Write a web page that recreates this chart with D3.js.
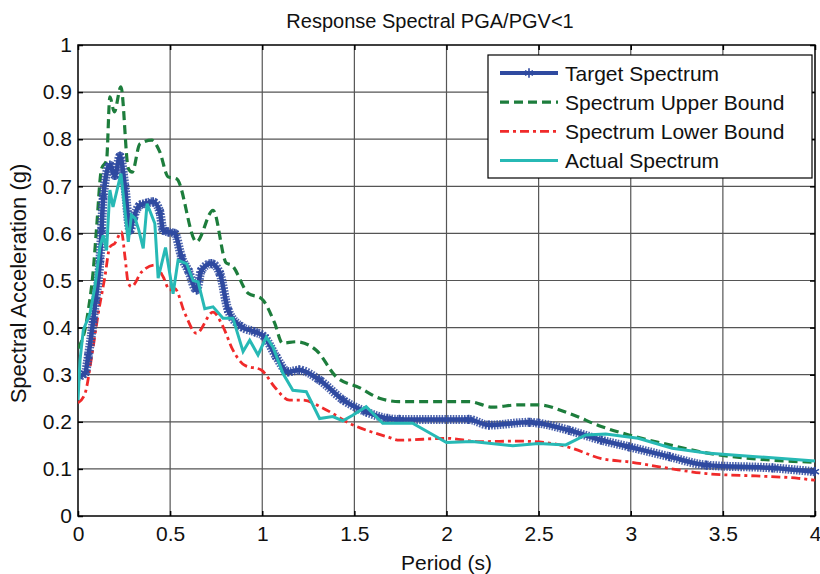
<!DOCTYPE html>
<html>
<head>
<meta charset="utf-8">
<script src="https://cdn.jsdelivr.net/npm/d3@7"></script>
<style>
  body { margin: 0; background: #fff; }
  svg { display: block; font-family: "Liberation Sans", Arial, sans-serif; }
</style>
</head>
<body>
<svg id="chart"></svg>
<script>
// values: period (s) and spectral acceleration (g)
let targetT = [0, 0.038, 0.056, 0.083, 0.096, 0.119, 0.128, 0.137, 0.173, 0.2, 0.228, 0.255, 0.282, 0.303, 0.336, 0.37, 0.408, 0.444, 0.462, 0.489, 0.525, 0.562, 0.6, 0.643, 0.67, 0.724, 0.77, 0.815, 0.887, 0.959, 1.013, 1.076, 1.14, 1.2, 1.31, 1.44, 1.564, 1.68, 1.744, 2.12, 2.23, 2.45, 2.5, 2.665, 2.84, 2.99, 3.21, 3.41, 3.77, 4.0]
let targetV = [0.296, 0.303, 0.34, 0.416, 0.458, 0.543, 0.607, 0.678, 0.745, 0.723, 0.764, 0.699, 0.607, 0.635, 0.66, 0.664, 0.667, 0.646, 0.607, 0.603, 0.6, 0.55, 0.52, 0.48, 0.522, 0.536, 0.515, 0.437, 0.402, 0.391, 0.38, 0.338, 0.306, 0.31, 0.289, 0.246, 0.221, 0.207, 0.205, 0.205, 0.193, 0.199, 0.197, 0.182, 0.161, 0.147, 0.126, 0.108, 0.102, 0.094]

let upperT = [0, 0.04, 0.056, 0.083, 0.1, 0.128, 0.155, 0.173, 0.197, 0.233, 0.273, 0.294, 0.336, 0.4, 0.444, 0.489, 0.535, 0.643, 0.733, 0.805, 0.833, 0.923, 0.995, 1.067, 1.11, 1.185, 1.293, 1.4, 1.53, 1.636, 1.744, 2.123, 2.25, 2.39, 2.5, 2.665, 2.84, 2.99, 3.21, 3.41, 4.0]
let upperV = [0.356, 0.4, 0.437, 0.522, 0.607, 0.738, 0.755, 0.89, 0.858, 0.911, 0.738, 0.73, 0.79, 0.798, 0.773, 0.72, 0.716, 0.582, 0.649, 0.537, 0.533, 0.473, 0.462, 0.41, 0.367, 0.37, 0.352, 0.296, 0.272, 0.25, 0.243, 0.243, 0.231, 0.236, 0.236, 0.218, 0.19, 0.172, 0.151, 0.134, 0.114]

let lowerT = [0, 0.038, 0.074, 0.11, 0.146, 0.173, 0.2, 0.236, 0.255, 0.273, 0.29, 0.345, 0.417, 0.462, 0.498, 0.525, 0.58, 0.643, 0.733, 0.787, 0.841, 0.905, 0.995, 1.067, 1.148, 1.22, 1.33, 1.473, 1.68, 1.744, 2.0, 2.18, 2.394, 2.57, 2.68, 2.84, 2.99, 3.21, 3.41, 3.68, 3.91, 4.0]
let lowerV = [0.24, 0.26, 0.338, 0.43, 0.508, 0.571, 0.579, 0.603, 0.55, 0.494, 0.487, 0.518, 0.533, 0.508, 0.48, 0.483, 0.43, 0.388, 0.433, 0.402, 0.352, 0.32, 0.31, 0.274, 0.246, 0.246, 0.229, 0.197, 0.168, 0.161, 0.165, 0.158, 0.159, 0.154, 0.144, 0.122, 0.115, 0.101, 0.09, 0.085, 0.08, 0.076]

let actualT = [0, 0.011, 0.029, 0.065, 0.092, 0.119, 0.137, 0.155, 0.173, 0.19, 0.233, 0.273, 0.29, 0.31, 0.33, 0.354, 0.375, 0.417, 0.435, 0.475, 0.516, 0.543, 0.589, 0.625, 0.652, 0.688, 0.733, 0.787, 0.841, 0.896, 0.932, 0.977, 1.022, 1.058, 1.112, 1.166, 1.239, 1.311, 1.383, 1.437, 1.491, 1.564, 1.654, 1.816, 2.0, 2.14, 2.36, 2.5, 2.647, 2.756, 2.864, 3.04, 3.225, 3.41, 3.68, 4.0]
let actualV = [0.246, 0.331, 0.395, 0.43, 0.487, 0.571, 0.596, 0.564, 0.692, 0.656, 0.727, 0.582, 0.639, 0.632, 0.607, 0.568, 0.663, 0.621, 0.505, 0.57, 0.472, 0.543, 0.536, 0.5, 0.497, 0.44, 0.444, 0.42, 0.42, 0.349, 0.373, 0.342, 0.38, 0.359, 0.303, 0.267, 0.264, 0.207, 0.211, 0.202, 0.214, 0.232, 0.197, 0.197, 0.156, 0.158, 0.149, 0.154, 0.151, 0.172, 0.174, 0.165, 0.144, 0.134, 0.126, 0.117]

let xTicks = [0, 0.5, 1, 1.5, 2, 2.5, 3, 3.5, 4]
let yTicks = [0, 0.1, 0.2, 0.3, 0.4, 0.5, 0.6, 0.7, 0.8, 0.9, 1]

let legendNames = ["Target Spectrum", "Spectrum Upper Bound", "Spectrum Lower Bound", "Actual Spectrum"]

let width = 820
let height = 574
let plotLeft = 78, plotRight = 815, plotTop = 45, plotBottom = 516

let blue = "#2f4aa0"
let green = "#1d7d3c"
let red = "#f02a2a"
let cyan = "#27b9b5"

let svg = d3.select("#chart").attr("width", width).attr("height", height)

let xScale = d3.scaleLinear().domain([0, 4]).range([plotLeft, plotRight])
let yScale = d3.scaleLinear().domain([0, 1]).range([plotBottom, plotTop])

// grid
svg.append("g")
   .selectAll("line")
   .data(xTicks.slice(1, -1))
   .enter()
   .append("line")
   .attr("x1", d => xScale(d)).attr("x2", d => xScale(d))
   .attr("y1", plotTop).attr("y2", plotBottom)
   .attr("stroke", "#555").attr("stroke-width", 1.2)

svg.append("g")
   .selectAll("line")
   .data(yTicks.slice(1, -1))
   .enter()
   .append("line")
   .attr("y1", d => yScale(d)).attr("y2", d => yScale(d))
   .attr("x1", plotLeft).attr("x2", plotRight)
   .attr("stroke", "#555").attr("stroke-width", 1.2)

// axes
let fmt = d => String(d)
let xAxis = d3.axisBottom(xScale).tickValues(xTicks).tickSize(-5).tickPadding(10).tickFormat(fmt)
let yAxis = d3.axisLeft(yScale).tickValues(yTicks).tickSize(-5).tickPadding(6).tickFormat(fmt)

svg.append("g").attr("transform", "translate(0," + plotBottom + ")").call(xAxis)
svg.append("g").attr("transform", "translate(" + plotLeft + ",0)").call(yAxis)
// ticks on top and right too
svg.append("g").attr("transform", "translate(0," + plotTop + ")")
   .call(d3.axisTop(xScale).tickValues(xTicks).tickSize(-5).tickFormat(""))
svg.append("g").attr("transform", "translate(" + plotRight + ",0)")
   .call(d3.axisRight(yScale).tickValues(yTicks).tickSize(-5).tickFormat(""))

svg.selectAll(".domain").attr("stroke", "none")
svg.selectAll(".tick line").attr("stroke", "#000").attr("stroke-width", 1.5)
svg.selectAll(".tick text").attr("font-size", 21).attr("fill", "#111")
   .attr("font-family", "Liberation Sans, Arial, sans-serif")

svg.append("rect")
   .attr("x", plotLeft).attr("y", plotTop)
   .attr("width", plotRight - plotLeft).attr("height", plotBottom - plotTop)
   .attr("fill", "none").attr("stroke", "#000").attr("stroke-width", 1.5)

// clip so thick lines stay in the box
svg.append("clipPath").attr("id", "clip")
   .append("rect").attr("x", plotLeft).attr("y", plotTop - 10)
   .attr("width", plotRight - plotLeft + 6).attr("height", plotBottom - plotTop + 10)

let line = d3.line().x(d => xScale(d[0])).y(d => yScale(d[1]))
let smooth = d3.line().curve(d3.curveMonotoneX).x(d => xScale(d[0])).y(d => yScale(d[1]))
let plot = svg.append("g").attr("clip-path", "url(#clip)")

let pairs = (t, v) => t.map((d, i) => [d, v[i]])

plot.append("path").datum(pairs(upperT, upperV)).attr("d", smooth)
    .attr("fill", "none").attr("stroke", green).attr("stroke-width", 3.2)
    .attr("stroke-dasharray", "9,5")

plot.append("path").datum(pairs(lowerT, lowerV)).attr("d", smooth)
    .attr("fill", "none").attr("stroke", red).attr("stroke-width", 2.8)
    .attr("stroke-dasharray", "9,4,3,4")

// target: solid line plus a ribbed band standing in for the dense star markers
let target = pairs(targetT, targetV)
plot.append("path").datum(target).attr("d", smooth)
    .attr("fill", "none").attr("stroke", blue).attr("stroke-width", 9)
    .attr("stroke-dasharray", "1.6,1.2").attr("opacity", 0.85)
plot.append("path").datum(target).attr("d", smooth)
    .attr("fill", "none").attr("stroke", blue).attr("stroke-width", 4.5)

let star = d3.symbol().type(d3.symbolAsterisk).size(60)
plot.selectAll(".star")
    .data(target)
    .enter()
    .append("path")
    .attr("class", "star")
    .attr("d", star)
    .attr("transform", d => "translate(" + xScale(d[0]) + "," + yScale(d[1]) + ")")
    .attr("fill", "none").attr("stroke", blue).attr("stroke-width", 1.6)

plot.append("path").datum(pairs(actualT, actualV)).attr("d", line)
    .attr("fill", "none").attr("stroke", cyan).attr("stroke-width", 3)

// titles
svg.append("text").text("Response Spectral PGA/PGV<1")
   .attr("x", 430).attr("y", 28).attr("text-anchor", "middle")
   .attr("font-size", 20).attr("fill", "#111")

svg.append("text").text("Period (s)")
   .attr("x", (plotLeft + plotRight) / 2).attr("y", 570).attr("text-anchor", "middle")
   .attr("font-size", 21).attr("fill", "#111")

svg.append("text").text("Spectral Acceleration (g)")
   .attr("transform", "translate(26," + (plotTop + plotBottom + 6) / 2 + ") rotate(-90)")
   .attr("text-anchor", "middle")
   .attr("font-size", 22).attr("fill", "#111")

// legend
let legend = svg.append("g")
legend.append("rect")
      .attr("x", 488).attr("y", 55).attr("width", 324).attr("height", 123)
      .attr("fill", "#fff").attr("stroke", "#000").attr("stroke-width", 1.2)

let styles = [
  {color: blue, width: 4, dash: null},
  {color: green, width: 3.2, dash: "9,5"},
  {color: red, width: 2.8, dash: "9,4,3,4"},
  {color: cyan, width: 3, dash: null}
]

legendNames.forEach((name, i) => {
  let y = 73 + i * 29.2
  legend.append("line")
        .attr("x1", 500).attr("x2", 558).attr("y1", y).attr("y2", y)
        .attr("stroke", styles[i].color).attr("stroke-width", styles[i].width)
        .attr("stroke-dasharray", styles[i].dash)
  if (i === 0) {
    legend.append("path").attr("d", star)
          .attr("transform", "translate(529," + y + ")")
          .attr("fill", "none").attr("stroke", blue).attr("stroke-width", 1.6)
  }
  legend.append("text").text(name)
        .attr("x", 565).attr("y", y + 7.5)
        .attr("font-size", 21).attr("fill", "#111")
})
</script>
</body>
</html>
